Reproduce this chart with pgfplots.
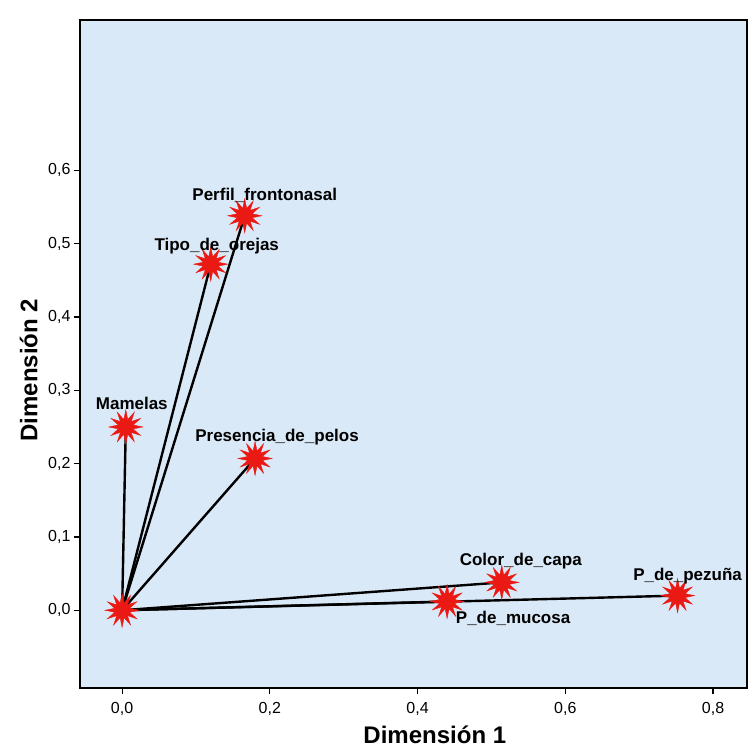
\documentclass[border=0pt]{standalone}
\usepackage{fontspec}
\setmainfont{Liberation Sans}
\usepackage{pgfplots}
\usepackage{pgfplotstable}
\pgfplotsset{compat=1.18}
\definecolor{bg}{RGB}{218,233,247}
\definecolor{starred}{RGB}{235,25,20}
\pgfdeclareplotmark{redstar}{%
  \fill[starred] (0:\pgfplotmarksize) \foreach \a in {1,...,23}{ -- ({\a*15}:{\pgfplotmarksize*(mod(\a,2)==0 ? 1 : 0.45)}) } -- cycle;%
}
\pgfplotstableread{
x y dx dy label
0.000 0.000 0 0 {}
0.005 0.250 6 17 Mamelas
0.120 0.472 6 14 Tipo\_de\_orejas
0.166 0.538 20 15 Perfil\_frontonasal
0.180 0.207 22 17 Presencia\_de\_pelos
0.514 0.038 19 17 Color\_de\_capa
0.440 0.012 66 -22 P\_de\_mucosa
0.752 0.020 10 15 P\_de\_pezuña
}\points
\begin{document}
\begin{tikzpicture}
\begin{axis}[
  at={(0,0)}, anchor=south west,
  scale only axis, width=667pt, height=668pt,
  xmin=-0.057, xmax=0.846, ymin=-0.106, ymax=0.805,
  axis background/.style={fill=bg},
  axis line style={line width=1.6pt},
  xtick={0,0.2,0.4,0.6,0.8}, ytick={0,0.1,0.2,0.3,0.4,0.5,0.6},
  xtick pos=bottom, ytick pos=left, tick align=outside,
  major tick length=6pt, tick style={line width=1.2pt, black},
  /pgf/number format/assume math mode=true,
  /pgf/number format/.cd, use comma, fixed, fixed zerofill, precision=1, /pgfplots/.cd,
  tick label style={font=\fontsize{16}{18}\selectfont},
  xticklabel style={yshift=-5pt},
  xlabel={Dimensión 1}, ylabel={Dimensión 2},
  label style={font=\fontsize{24}{28}\selectfont\bfseries},
  xlabel style={at={(axis description cs:0.532,-0.070)}, anchor=center},
  ylabel style={at={(axis description cs:-0.077,0.476)}, anchor=center},
]
\addplot[black, line width=2.4pt] coordinates {(0,0) (0.005,0.250)};
\addplot[black, line width=2.4pt] coordinates {(0,0) (0.120,0.472)};
\addplot[black, line width=2.4pt] coordinates {(0,0) (0.166,0.538)};
\addplot[black, line width=2.4pt] coordinates {(0,0) (0.180,0.207)};
\addplot[black, line width=2.4pt] coordinates {(0,0) (0.514,0.038)};
\addplot[black, line width=2.4pt] coordinates {(0,0) (0.440,0.012)};
\addplot[black, line width=2.4pt] coordinates {(0,0) (0.752,0.020)};
\addplot[only marks, mark=redstar, mark size=17pt,
  visualization depends on={\thisrow{dx}\as\dx},
  visualization depends on={\thisrow{dy}\as\dy},
  nodes near coords, point meta=explicit symbolic,
  every node near coord/.style={anchor=base, xshift=\dx pt, yshift=\dy pt,
    font=\fontsize{17}{20}\selectfont\bfseries, inner sep=0pt, text=black}]
  table[x=x, y=y, meta=label] {\points};
\end{axis}
\pgfresetboundingbox
\useasboundingbox (-80pt,-66pt) rectangle (667pt,688pt);
\end{tikzpicture}
\end{document}
